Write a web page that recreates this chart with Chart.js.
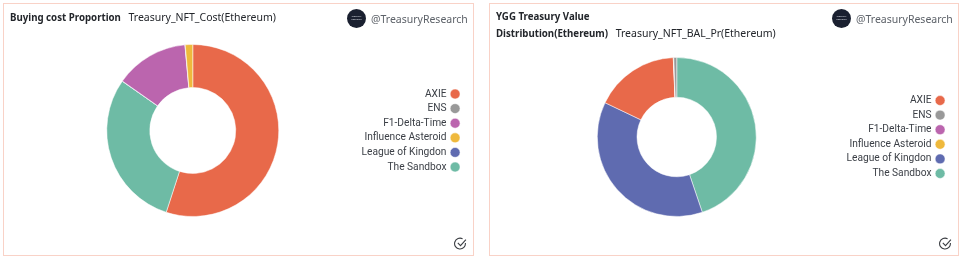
<!DOCTYPE html>
<html>
<head>
<meta charset="utf-8">
<script src="https://cdn.jsdelivr.net/npm/chart.js@4"></script>
<style>
  html, body { margin: 0; padding: 0; background: #fff; }
  body { width: 960px; height: 259px; position: relative; overflow: hidden; font-family: "Noto Sans", sans-serif; color: #2b2f36; filter: blur(0.3px); }
  .card { position: absolute; top: 3px; height: 251px; border: 1px solid #f9d2c7; box-sizing: content-box; }
  #card1 { left: 3px; width: 469px; }
  #card2 { left: 489px; width: 468px; }
  canvas { position: absolute; left: 0; top: 0; }
  .title { position: absolute; left: 6px; top: 5px; font-size: 9.7px; line-height: 16px; font-weight: 700; white-space: nowrap; color: #23262b; }
  .query { font-weight: 400; font-size: 10.5px; margin-left: 5px; }
  .logo { position: absolute; top: 5px; width: 19px; height: 19px; border-radius: 50%; background: #1a2030; color: #d8dbe2; font-size: 2.5px; line-height: 3px; text-align: center; padding-top: 6px; box-sizing: border-box; }
  .handle { position: absolute; top: 8px; font-size: 10.5px; color: #5d6269; white-space: nowrap; }
  .check { position: absolute; width: 13px; height: 13px; }
</style>
</head>
<body>
<div class="card" id="card1">
  <canvas id="costChart"></canvas>
  <div class="title">Buying cost Proportion <span class="query">Treasury_NFT_Cost(Ethereum)</span></div>
  <div class="logo" style="left:343px">Treasury<br>Research</div>
  <div class="handle" style="left:367px">@TreasuryResearch</div>
  <svg class="check" style="left:450px;top:233px" viewBox="0 0 24 24" fill="none" stroke="#3a3d42" stroke-width="2"><path d="M21 11a10 10 0 1 1-5-7.5"/><path d="M7 11l5 5 10-11"/></svg>
</div>
<div class="card" id="card2">
  <canvas id="valueChart"></canvas>
  <div class="title">YGG Treasury Value<br>Distribution(Ethereum) <span class="query">Treasury_NFT_BAL_Pr(Ethereum)</span></div>
  <div class="logo" style="left:342px">Treasury<br>Research</div>
  <div class="handle" style="left:366px">@TreasuryResearch</div>
  <svg class="check" style="left:449px;top:233px" viewBox="0 0 24 24" fill="none" stroke="#3a3d42" stroke-width="2"><path d="M21 11a10 10 0 1 1-5-7.5"/><path d="M7 11l5 5 10-11"/></svg>
</div>
<script>
const colors = {
    'AXIE': '#e8694a',
    'ENS': '#999999',
    'F1-Delta-Time': '#bb65ae',
    'Influence Asteroid': '#efb93c',
    'League of Kingdon': '#5f6bb0',
    'The Sandbox': '#6ebba5'
};

// slices are listed in the clockwise order of the picture
const costLabels = ['AXIE', 'The Sandbox', 'League of Kingdon', 'F1-Delta-Time', 'ENS', 'Influence Asteroid'];
const costValues = [55, 29.7, 0.05, 13.8, 0.05, 1.4];

const valueLabels = ['The Sandbox', 'League of Kingdon', 'AXIE', 'F1-Delta-Time', 'Influence Asteroid', 'ENS'];
const valueValues = [44.8, 37.3, 17.2, 0.05, 0.05, 0.6];

function drawDonut(canvasId, labels, values, size, padding) {
    const canvas = document.getElementById(canvasId);
    canvas.style.width = size.width + 'px';
    canvas.style.height = size.height + 'px';

    return new Chart(canvas, {
        type: 'doughnut',
        data: {
            labels: labels,
            datasets: [{
                data: values,
                backgroundColor: labels.map(function (l) { return colors[l]; }),
                borderColor: 'rgba(255, 255, 255, 0.5)',
                borderWidth: 1
            }]
        },
        options: {
            responsive: false,
            animation: false,
            cutout: '50%',
            layout: { padding: padding },
            plugins: {
                tooltip: { enabled: false },
                legend: {
                    position: 'right',
                    rtl: true,
                    labels: {
                        usePointStyle: true,
                        pointStyle: 'circle',
                        boxWidth: 7,
                        boxHeight: 7,
                        padding: 4.4,
                        color: '#3b3f46',
                        font: { family: 'Roboto', size: 10.2 },
                        // legend reads alphabetically, slices do not
                        sort: function (a, b) { return a.text.localeCompare(b.text); }
                    }
                }
            }
        }
    });
}

window.onload = function () {
    const c1 = document.getElementById('costChart');
    c1.width = 469; c1.height = 251;
    const c2 = document.getElementById('valueChart');
    c2.width = 468; c2.height = 251;
    drawDonut('costChart', costLabels, costValues, { width: 469, height: 251 }, { top: 40, bottom: 38, right: 10, left: 30 });
    drawDonut('valueChart', valueLabels, valueValues, { width: 468, height: 251 }, { top: 53, bottom: 38, right: 10, left: 27 });
};
</script>
</body>
</html>
